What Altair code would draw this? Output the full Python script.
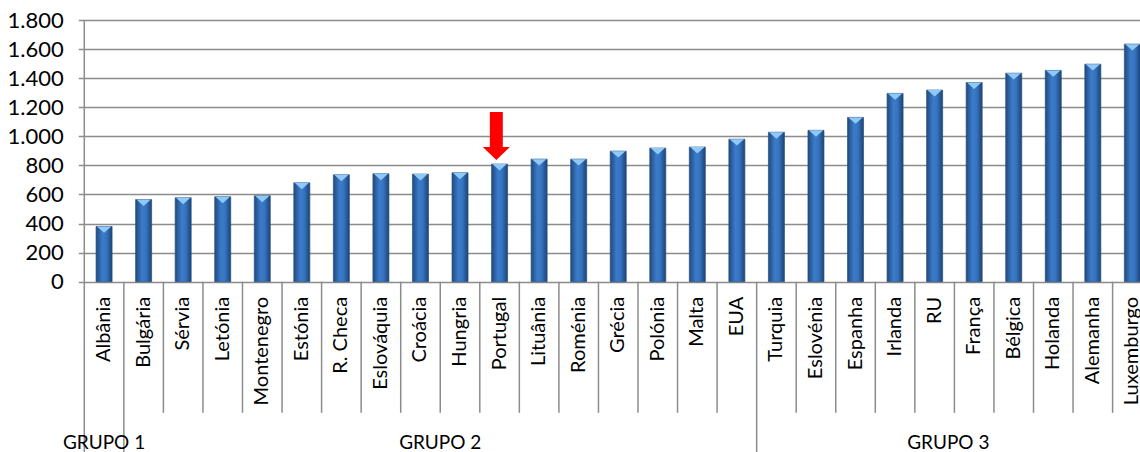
import altair as alt
import pandas as pd

# --- data -----------------------------------------------------------------
categorias = [
    "Albânia", "Bulgária", "Sérvia", "Letónia", "Montenegro", "Estónia",
    "R. Checa", "Eslováquia", "Croácia", "Hungria", "Portugal", "Lituânia",
    "Roménia", "Grécia", "Polónia", "Malta", "EUA", "Turquia", "Eslovénia",
    "Espanha", "Irlanda", "RU", "França", "Bélgica", "Holanda", "Alemanha",
    "Luxemburgo",
]
valores = [
    380, 565, 577, 584, 591, 680, 735, 742, 740, 749, 809, 843, 843, 898,
    919, 926, 980, 1028, 1041, 1130, 1295, 1318, 1370, 1434, 1453, 1496, 1634,
]
grupos = ["GRUPO 1", "GRUPO 2", "GRUPO 3"]
grupo_inicio = [0, 1, 17]   # first category index of each group
grupo_fim = [1, 17, 27]     # one past the last category index
destaque = "Portugal"
y_ticks = list(range(0, 1801, 200))

# --- layout ----------------------------------------------------------------
LEFT, TOP = 84.3, 20
W, H = 1140 - LEFT, 452 - TOP
SLOT = 39.55                      # pixels per category
X_MAX = W / SLOT                  # visible part of the category axis
PLOT_H = 261.7                    # pixels between 0 and 1800
Y_MIN = -1800 * (H - PLOT_H) / PLOT_H
SEP_BOTTOM = -902                 # end of the category separators
LABEL_Y = -104                    # top end of the rotated category labels
GROUP_Y = -1109                   # centre line of the group labels
FONT = "Lato"
GRID = "#8c8c8c"

xs = alt.Scale(domain=[0, X_MAX], nice=False, zero=False)
ys = alt.Scale(domain=[Y_MIN, 1800], nice=False, zero=False)

df = pd.DataFrame({"pais": categorias, "valor": valores, "idx": range(len(categorias))})

sep = pd.DataFrame({"b": list(range(0, 27))})
sep["y_ini"] = [1800 if b == 0 else 0 for b in sep["b"]]
sep["y_fim"] = [Y_MIN if b in grupo_inicio else SEP_BOTTOM for b in sep["b"]]

dg = pd.DataFrame({"grupo": grupos, "ini": grupo_inicio, "fim": grupo_fim})
dg["centro"] = [(a + min(b, X_MAX)) / 2 for a, b in zip(dg["ini"], dg["fim"])]

base = alt.Chart(df).transform_calculate(
    x0="datum.idx + 0.2975", x1="datum.idx + 0.7025", xc="datum.idx + 0.5"
)

bar_fill = alt.Gradient(
    gradient="linear",
    x1=0, x2=1, y1=0, y2=0,
    stops=[
        alt.GradientStop(color="#214a7c", offset=0),
        alt.GradientStop(color="#3b7bcb", offset=0.4),
        alt.GradientStop(color="#3674c0", offset=0.65),
        alt.GradientStop(color="#1d4374", offset=1),
    ],
)

# one shared y axis definition, used by every layer so the merged axis survives
y_axis = alt.Axis(
    values=y_ticks, grid=True, gridColor=GRID, gridWidth=1.5, domain=False,
    ticks=True, tickColor=GRID, tickWidth=1.5, tickSize=6,
    labelFont=FONT, labelFontSize=22, labelColor="#000000", labelPadding=15,
    labelExpr="replace(format(datum.value, ','), ',', '.')", title=None,
)

bars = base.mark_bar(fill=bar_fill, stroke="#27507f", strokeWidth=0.7).encode(
    x=alt.X("x0:Q", scale=xs, axis=None),
    x2="x1:Q",
    y=alt.Y("valor:Q", scale=ys, axis=y_axis),
    y2=alt.datum(0),
)

# light bevel on top of each bar
caps = base.mark_point(
    shape="M-0.9,0 L0.9,0 L0,0.8 Z", size=256, filled=True,
    color="#8fc9f8", opacity=1,
).encode(
    x=alt.X("xc:Q", scale=xs, axis=None),
    y=alt.Y("valor:Q", scale=ys, axis=y_axis),
)

arrow = base.transform_filter(alt.datum.pais == destaque).mark_point(
    shape="M-0.72,-3.85 L0.24,-3.85 L0.24,-1.26 L0.76,-1.26 L-0.24,-0.3 L-1.24,-1.26 L-0.72,-1.26 Z",
    size=729, filled=True, color="#ff0000", opacity=1,
).encode(
    x=alt.X("xc:Q", scale=xs, axis=None),
    y=alt.Y("valor:Q", scale=ys, axis=y_axis),
)

rules = alt.Chart(sep).mark_rule(color=GRID, strokeWidth=1.5).encode(
    x=alt.X("b:Q", scale=xs, axis=None),
    y=alt.Y("y_ini:Q", scale=ys, axis=y_axis),
    y2="y_fim:Q",
)

cat_labels = base.mark_text(
    angle=270, align="right", baseline="middle", font=FONT, fontSize=20,
    color="#000000",
).encode(
    x=alt.X("xc:Q", scale=xs, axis=None),
    y=alt.YDatum(LABEL_Y, scale=ys, axis=y_axis),
    text="pais:N",
)

group_labels = alt.Chart(dg).mark_text(
    align="center", baseline="middle", font=FONT, fontSize=19, color="#000000",
).encode(
    x=alt.X("centro:Q", scale=xs, axis=None),
    y=alt.YDatum(GROUP_Y, scale=ys, axis=y_axis),
    text="grupo:N",
)

chart = (
    alt.layer(bars, rules, caps, arrow, cat_labels, group_labels)
    .properties(
        width=W, height=H,
        autosize=alt.AutoSizeParams(type="none"),
        padding={"left": LEFT, "top": TOP, "right": 0, "bottom": 0},
        background="#ffffff",
    )
    .configure_view(stroke=None)
)

chart.save("out.html", embed_options={"renderer": "svg", "actions": False})
